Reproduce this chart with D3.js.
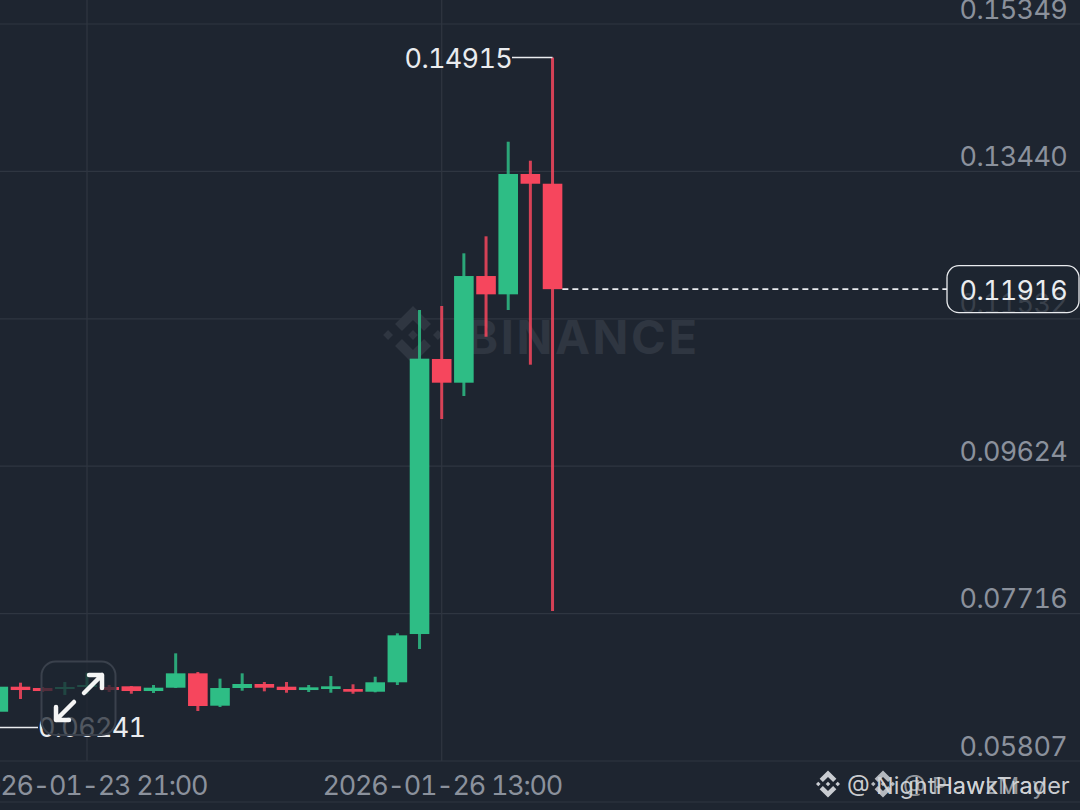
<!DOCTYPE html>
<html lang="en">
<head>
<meta charset="utf-8">
<title>Candles</title>
<script src="https://d3js.org/d3.v7.min.js"></script>
<style>
  html, body { margin: 0; padding: 0; background: #1e2530; overflow: hidden; }
  svg { display: block; }
  text { font-family: Inter, "Noto Sans", sans-serif; font-variant-numeric: tabular-nums; }
</style>
</head>
<body>
<div id="chart"></div>
<script>
// 4h candles
const times = ["2026-01-23T05:00Z", "2026-01-23T09:00Z", "2026-01-23T13:00Z", "2026-01-23T17:00Z", "2026-01-23T21:00Z",
  "2026-01-24T01:00Z", "2026-01-24T05:00Z", "2026-01-24T09:00Z", "2026-01-24T13:00Z", "2026-01-24T17:00Z", "2026-01-24T21:00Z",
  "2026-01-25T01:00Z", "2026-01-25T05:00Z", "2026-01-25T09:00Z", "2026-01-25T13:00Z", "2026-01-25T17:00Z", "2026-01-25T21:00Z",
  "2026-01-26T01:00Z", "2026-01-26T05:00Z", "2026-01-26T09:00Z", "2026-01-26T13:00Z", "2026-01-26T17:00Z", "2026-01-26T21:00Z",
  "2026-01-27T01:00Z", "2026-01-27T05:00Z", "2026-01-27T09:00Z"]
const opens = [0.06445, 0.06769, 0.06752, 0.06739, 0.06765, 0.06765, 0.06774, 0.06713, 0.06756, 0.06942, 0.06523, 0.06752, 0.06804,
  0.06769, 0.06726, 0.06739, 0.06739, 0.06704, 0.06826, 0.07451, 0.11012, 0.10705, 0.12086, 0.11849, 0.13407, 0.13281]
const closes = [0.06769, 0.06726, 0.06713, 0.06765, 0.06791, 0.06726, 0.06713, 0.06756, 0.06942, 0.06519, 0.06752, 0.06804, 0.06756,
  0.06726, 0.06761, 0.06774, 0.06704, 0.06826, 0.07434, 0.11016, 0.10705, 0.12086, 0.11849, 0.13407, 0.13281, 0.11916]
const highs = [0.06804, 0.06821, 0.06765, 0.06830, 0.06950, 0.06791, 0.06778, 0.06791, 0.07201, 0.06959, 0.06873, 0.06942, 0.06830,
  0.06830, 0.06791, 0.06907, 0.06800, 0.06898, 0.07460, 0.11646, 0.11698, 0.12380, 0.12600, 0.13825, 0.13579, 0.14915]
const lows = [0.06428, 0.06610, 0.06700, 0.06662, 0.06674, 0.06700, 0.06678, 0.06687, 0.06752, 0.06454, 0.06506, 0.06717, 0.06709,
  0.06691, 0.06700, 0.06691, 0.06678, 0.06696, 0.06791, 0.07257, 0.10235, 0.10533, 0.11300, 0.11646, 0.10938, 0.07749]

const priceTicks = [0.05807, 0.07716, 0.09624, 0.11532, 0.13440, 0.15349]
const timeTicks = ["2026-01-23T21:00Z", "2026-01-26T13:00Z"]
const lastPrice = 0.11916
const maxPrice = 0.14915
const minPrice = 0.06241

const width = 1080, height = 810
const green = "#2ebd85", red = "#f6465d", grid = "#2f3641", labelColor = "#8b919c"
const priceSpacing = -0.7

const svg = d3.select("#chart").append("svg")
  .attr("width", width)
  .attr("height", height)
  .attr("viewBox", `0 0 ${width} ${height}`)

// scales
const x = d3.scaleUtc()
  .domain([new Date(timeTicks[0]), new Date(timeTicks[1])])
  .range([87, 441.7])
const y = d3.scaleLinear()
  .domain([priceTicks[0], priceTicks[5]])
  .range([761, 24])

const fmtPrice = d3.format(".5f")
const fmtTime = d3.utcFormat("%Y-%m-%d %H:%M")

// grid + price labels
const yAxis = svg.append("g")
  .attr("transform", "translate(1067,0)")
  .call(d3.axisLeft(y).tickValues(priceTicks).tickFormat(fmtPrice).tickSize(0).tickPadding(0))
yAxis.select(".domain").remove()
yAxis.selectAll("text")
  .attr("fill", labelColor)
  .attr("font-size", 27)
  .attr("font-family", "Inter")
  .attr("letter-spacing", priceSpacing)
  .attr("dy", -6)

svg.selectAll("line.hgrid")
  .data(priceTicks)
  .join("line")
  .attr("class", "hgrid")
  .attr("x1", 0).attr("x2", width)
  .attr("y1", d => y(d)).attr("y2", d => y(d))
  .attr("stroke", grid).attr("stroke-width", 1.2)

svg.selectAll("line.vgrid")
  .data(timeTicks)
  .join("line")
  .attr("class", "vgrid")
  .attr("x1", d => x(new Date(d))).attr("x2", d => x(new Date(d)))
  .attr("y1", 0).attr("y2", 761)
  .attr("stroke", grid).attr("stroke-width", 1.2)

svg.append("line")
  .attr("x1", 0).attr("x2", width)
  .attr("y1", 802).attr("y2", 802)
  .attr("stroke", grid).attr("stroke-width", 1.2)

// time labels
const xAxis = svg.append("g")
  .attr("transform", "translate(0,795)")
  .call(d3.axisBottom(x).tickValues(timeTicks.map(d => new Date(d))).tickFormat(fmtTime).tickSize(0).tickPadding(0))
xAxis.select(".domain").remove()
xAxis.selectAll("text")
  .attr("fill", labelColor)
  .attr("font-size", 27)
  .attr("font-family", "Inter")
  .attr("letter-spacing", -1.25)
  .attr("dy", 0)
  .attr("y", 0)

// binance logo, diamonds around a centre
function logo(g, cx, cy, s, color, side) {
  const diamonds = [[0, 0.17], [-side, 0.17], [side, 0.17]]
  diamonds.forEach(d => {
    const r = d[1] * s
    g.append("path")
      .attr("d", `M${cx + d[0] * s} ${cy - r}L${cx + d[0] * s + r} ${cy}L${cx + d[0] * s} ${cy + r}L${cx + d[0] * s - r} ${cy}Z`)
      .attr("fill", color)
  })
  // upper and lower chevrons
  ;[-1, 1].forEach(sign => {
    const a = 0.62 * s, c = 0.24 * s
    g.append("path")
      .attr("d", `M${cx} ${cy + sign * s}L${cx + a} ${cy + sign * (s - a)}L${cx + a - c} ${cy + sign * (s - a - c)}L${cx} ${cy + sign * (s - 2 * c)}L${cx - a + c} ${cy + sign * (s - a - c)}L${cx - a} ${cy + sign * (s - a)}Z`)
      .attr("fill", color)
  })
}

// watermark
const wm = svg.append("g")
logo(wm, 413, 335, 29, "#2f3641", 0.86)
wm.append("text")
  .attr("x", 467).attr("y", 354)
  .attr("font-size", 47).attr("font-weight", 700)
  .attr("letter-spacing", 2.6)
  .attr("fill", "#2f3641")
  .text("BINANCE")

// candles
const candleW = 19.6
const candles = svg.append("g")
const rows = d3.range(times.length)
const col = i => closes[i] >= opens[i] ? green : red

candles.selectAll("line")
  .data(rows)
  .join("line")
  .attr("x1", i => x(new Date(times[i]))).attr("x2", i => x(new Date(times[i])))
  .attr("y1", i => y(highs[i])).attr("y2", i => y(lows[i]))
  .attr("stroke", col).attr("stroke-width", 3).attr("stroke-opacity", 0.85)

candles.selectAll("rect")
  .data(rows)
  .join("rect")
  .attr("x", i => x(new Date(times[i])) - candleW / 2)
  .attr("width", candleW)
  .attr("y", i => y(Math.max(opens[i], closes[i])))
  .attr("height", i => Math.max(1.5, Math.abs(y(opens[i]) - y(closes[i]))))
  .attr("fill", col)

// last price line + pill
const lastX = x(new Date(times[times.length - 1]))
svg.append("line")
  .attr("x1", lastX + candleW / 2).attr("x2", 947)
  .attr("y1", y(lastPrice)).attr("y2", y(lastPrice))
  .attr("stroke", "#eaecef").attr("stroke-width", 1.6).attr("stroke-dasharray", "6 4")
svg.append("rect")
  .attr("x", 947).attr("y", y(lastPrice) - 23.5)
  .attr("width", 132).attr("height", 47).attr("rx", 12)
  .attr("fill", "#1e2530").attr("fill-opacity", 0.75)
  .attr("stroke", "#eaecef").attr("stroke-width", 1.3)
svg.append("text")
  .attr("x", 1067).attr("y", y(lastPrice) + 10.5)
  .attr("text-anchor", "end")
  .attr("font-size", 27).attr("letter-spacing", priceSpacing).attr("fill", "#eaecef")
  .text(fmtPrice(lastPrice))

// max label
svg.append("line")
  .attr("x1", 512).attr("x2", lastX)
  .attr("y1", y(maxPrice)).attr("y2", y(maxPrice))
  .attr("stroke", "#eaecef").attr("stroke-width", 1.4)
svg.append("text")
  .attr("x", 512).attr("y", y(maxPrice) + 10)
  .attr("text-anchor", "end")
  .attr("font-size", 27).attr("letter-spacing", priceSpacing).attr("fill", "#eaecef")
  .text(fmtPrice(maxPrice))

// min label
svg.append("line")
  .attr("x1", 0).attr("x2", 38)
  .attr("y1", y(minPrice)).attr("y2", y(minPrice))
  .attr("stroke", "#eaecef").attr("stroke-width", 1.4)
svg.append("text")
  .attr("x", 38).attr("y", y(minPrice) + 10)
  .attr("font-size", 27).attr("letter-spacing", priceSpacing).attr("fill", "#eaecef")
  .text(fmtPrice(minPrice))

// expand button
svg.append("rect")
  .attr("x", 41.5).attr("y", 661.5)
  .attr("width", 74).attr("height", 73.5).attr("rx", 14)
  .attr("fill", "#1e2530").attr("fill-opacity", 0.75)
  .attr("stroke", "#3a414c").attr("stroke-width", 2)
const arrows = svg.append("g")
  .attr("fill", "none").attr("stroke", "#f5f5f5")
  .attr("stroke-width", 4.5).attr("stroke-linecap", "round").attr("stroke-linejoin", "round")
arrows.append("path").attr("d", "M84 693L102 675M89 675H102V688")
arrows.append("path").attr("d", "M74 702L56 720M56 707V720H69")

// footer watermark, two stamps on top of each other
const foot = svg.append("g")
logo(foot, 828, 784, 13.5, "#c9ccd1", 0.72)
logo(foot, 883, 784, 13.5, "#b4b8be", 0.72)
foot.append("text")
  .attr("x", 903).attr("y", 794).attr("font-size", 23.5)
  .attr("fill", "#b4b8be").attr("fill-opacity", 0.8).text("@ PlawzMay")
foot.append("text")
  .attr("x", 847).attr("y", 794).attr("font-size", 23.5)
  .attr("fill", "#d5d7da").attr("fill-opacity", 0.95).text("@ NightHawkTrader")
</script>
</body>
</html>
